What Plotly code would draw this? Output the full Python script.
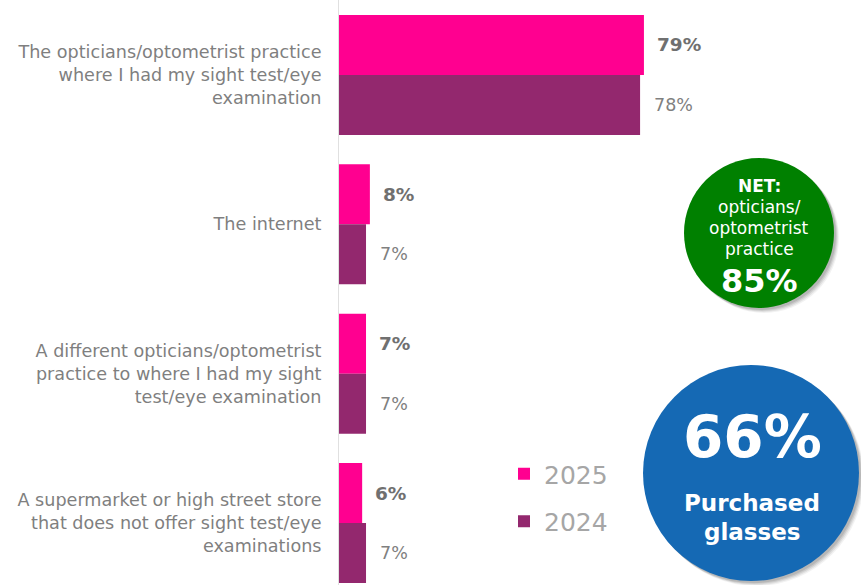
import plotly.graph_objects as go

# Where glasses were purchased, share of respondents
categories = [
    "The opticians/optometrist practice<br>where I had my sight test/eye<br>examination",
    "The internet",
    "A different opticians/optometrist<br>practice to where I had my sight<br>test/eye examination",
    "A supermarket or high street store<br>that does not offer sight test/eye<br>examinations",
]
values_2025 = [79, 8, 7, 6]
values_2024 = [78, 7, 7, 7]
series_names = ["2025", "2024"]

net_practice = 85
purchased_glasses = 66

PINK = "#FF0090"
PLUM = "#93286E"
GREEN = "#008000"
BLUE = "#1569B4"
FONT = "DejaVu Sans, Verdana, sans-serif"

W, H = 861, 585
ML = 339
PW = W - ML

positions = list(range(len(categories)))

fig = go.Figure()
fig.add_trace(go.Bar(
    y=positions, x=values_2025, orientation="h", name=series_names[0],
    marker=dict(color=PINK, line=dict(width=0)), legendgroup="a",
    hoverinfo="skip",
))
fig.add_trace(go.Bar(
    y=positions, x=values_2024, orientation="h", name=series_names[1],
    marker=dict(color=PLUM, line=dict(width=0)), legendgroup="b",
    hoverinfo="skip",
))

annotations = []
half = (1 - 0.196) / 4
for i, (a, b) in enumerate(zip(values_2025, values_2024)):
    annotations.append(dict(
        x=a, y=i - half, xref="x", yref="y", text=f"<b>{a}%</b>",
        showarrow=False, xanchor="left", xshift=11,
        font=dict(family=FONT, size=18.5, color="#707070"),
    ))
    annotations.append(dict(
        x=b, y=i + half, xref="x", yref="y", text=f"{b}%",
        showarrow=False, xanchor="left", xshift=12,
        font=dict(family=FONT, size=17.5, color="#808080"),
    ))


def px(x):
    return (x - ML) / PW


def py(y):
    return 1 - y / H


shapes = []


def circle(cx, cy, r, color):
    # soft drop shadow, then the disc
    for k, op in [(5, 0.05), (4, 0.07), (3, 0.09), (2, 0.1)]:
        shapes.append(dict(
            type="circle", xref="paper", yref="paper", layer="above",
            x0=px(cx - r + k), x1=px(cx + r + k),
            y0=py(cy + r + k), y1=py(cy - r + k),
            fillcolor=f"rgba(0,0,0,{op})", line=dict(width=0),
        ))
    shapes.append(dict(
        type="circle", xref="paper", yref="paper", layer="above",
        x0=px(cx - r), x1=px(cx + r), y0=py(cy + r), y1=py(cy - r),
        fillcolor=color, line=dict(width=0),
    ))


circle(759, 233, 75, GREEN)
circle(751, 473, 108, BLUE)


def label(x, y, text, size):
    annotations.append(dict(
        x=px(x), y=py(y), xref="paper", yref="paper", text=text,
        showarrow=False, xanchor="center", yanchor="middle",
        font=dict(family=FONT, size=size, color="white"),
    ))


label(759, 186, "<b>NET:</b>", 17)
label(759, 207, "opticians/", 17)
label(759, 228, "optometrist", 17)
label(759, 249, "practice", 17)
label(759, 281, f"<b>{net_practice}%</b>", 32)

label(752, 437, f"<b>{purchased_glasses}%</b>", 58)
label(752, 503, "<b>Purchased</b>", 23)
label(752, 532, "<b>glasses</b>", 23)

fig.update_layout(
    width=W, height=H,
    margin=dict(l=ML, r=0, t=0, b=0),
    paper_bgcolor="white", plot_bgcolor="white",
    barmode="group", bargap=0.196, bargroupgap=0,
    showlegend=True,
    legend=dict(
        x=px(504), y=py(451), xref="paper", yref="paper",
        xanchor="left", yanchor="top",
        font=dict(family=FONT, size=25, color="#A6A6A6"),
        tracegroupgap=12, bgcolor="rgba(0,0,0,0)",
        itemclick=False, itemdoubleclick=False,
    ),
    xaxis=dict(
        range=[0, PW / 3.86], visible=False, showgrid=False, zeroline=False,
    ),
    yaxis=dict(
        range=[3.415, -0.502], tickmode="array", tickvals=positions,
        ticktext=categories, showgrid=False, zeroline=False,
        showline=True, linecolor="#E0E0E0", linewidth=1,
        ticks="", ticklabelstandoff=13,
        tickfont=dict(family=FONT, size=17.6, color="#7F7F7F"),
    ),
    shapes=shapes,
    annotations=annotations,
)

fig.write_html("out.html")
